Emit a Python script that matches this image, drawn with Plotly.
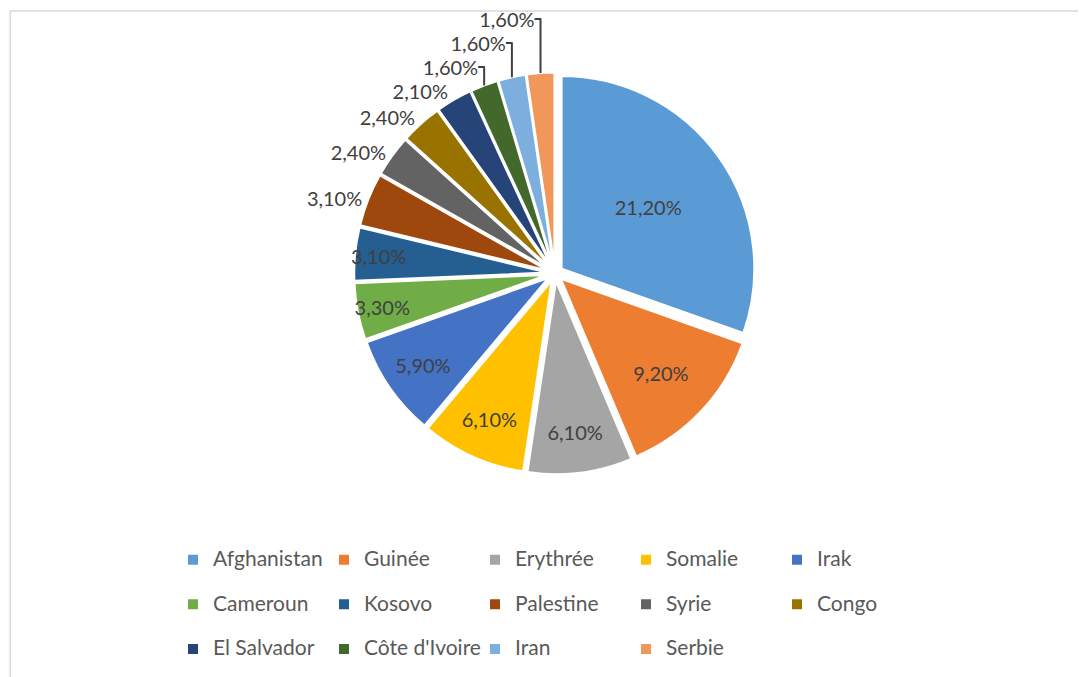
import plotly.graph_objects as go

# 국가별 비율 (%)
countries = ["Afghanistan", "Guinée", "Erythrée", "Somalie", "Irak",
             "Cameroun", "Kosovo", "Palestine", "Syrie", "Congo",
             "El Salvador", "Côte d'Ivoire", "Iran", "Serbie"]
shares = [21.2, 9.2, 6.1, 6.1, 5.9, 3.3, 3.1, 3.1, 2.4, 2.4, 2.1, 1.6, 1.6, 1.6]

COLORS = ["#5B9BD5", "#ED7D31", "#A5A5A5", "#FFC000", "#4472C4",
          "#70AD47", "#255E91", "#9E480E", "#636363", "#997300",
          "#264478", "#43682B", "#7CAFDD", "#F1975A"]

FONT = "Lato, 'Liberation Sans', sans-serif"

# 라벨 텍스트 (소수점 쉼표)
texts = [f"{v:.2f}".replace(".", ",") + "%" for v in shares]
positions = ["inside"] * 7 + ["outside"] * 7

# 범례 행 간격을 넓히기 위해 두 줄 텍스트 사용
legend_labels = [f"<span style='font-size:21px'>{c}</span><br> " for c in countries]

fig = go.Figure(go.Pie(
    labels=legend_labels,
    values=shares,
    text=texts,
    textinfo="text",
    textposition=positions,
    insidetextorientation="horizontal",
    sort=False,
    direction="clockwise",
    rotation=0,
    pull=[0.042] * len(shares),
    marker=dict(colors=COLORS, line=dict(color="white", width=2)),
    insidetextfont=dict(color="#404040", size=20, family=FONT),
    outsidetextfont=dict(color="#404040", size=20, family=FONT),
    domain=dict(x=[0.254, 0.756], y=[0.311, 0.905]),
    automargin=False,
    hoverinfo="text",
    hovertext=[f"{c}: {t}" for c, t in zip(countries, texts)],
))

fig.update_layout(
    width=1086,
    height=677,
    paper_bgcolor="white",
    plot_bgcolor="white",
    font=dict(family=FONT, color="#595959"),
    margin=dict(l=143, r=143, t=0, b=0, autoexpand=False),
    uniformtext=dict(minsize=20, mode="show"),
    legend=dict(
        orientation="h",
        x=0.0275,
        xanchor="left",
        y=0.21,
        yanchor="top",
        entrywidth=106,
        valign="top",
        font=dict(size=16, color="#595959", family=FONT),
    ),
    shapes=[dict(
        type="rect", xref="paper", yref="paper",
        x0=-0.176, x1=1.3, y0=-0.2, y1=0.9956,
        line=dict(color="#D9D9D9", width=1.5),
        fillcolor="rgba(0,0,0,0)", layer="below",
    )],
)

fig.write_html("out.html")
